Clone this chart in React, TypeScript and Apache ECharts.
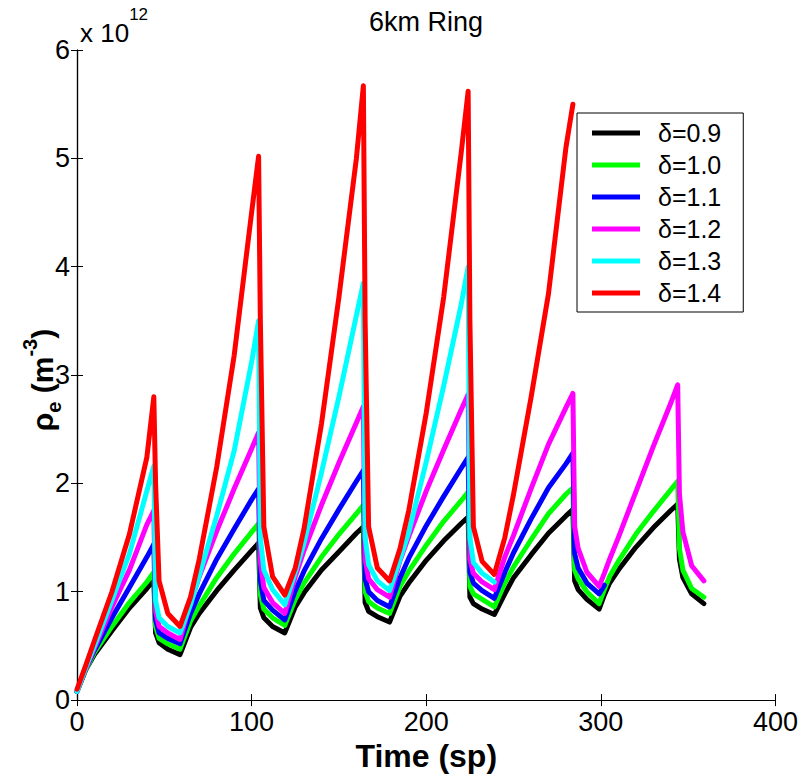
import React, { useEffect, useRef } from "react";
import * as echarts from "echarts";

// x positions (Time, sp)
const xs = [
  0, 5, 10, 20, 30, 40, 44, 45, 47, 52,
  59, 65, 70, 80, 90, 100, 104, 105, 107, 112,
  119, 125, 130, 140, 150, 160, 164, 165, 167, 172,
  179, 185, 190, 200, 210, 220, 224, 225, 227, 232,
  239, 245, 250, 260, 270, 280, 284, 285, 287, 292,
  299, 302, 305, 310, 320, 330, 340, 344, 345, 347, 352,
  359,
];

// values in units of 1e12 m^-3
const d09 = [
  0.08, 0.28, 0.42, 0.64, 0.85, 1.03, 1.11, 0.62, 0.53, 0.47,
  0.42, 0.67, 0.80, 1.01, 1.20, 1.38, 1.45, 0.85, 0.76, 0.68,
  0.62, 0.86, 0.99, 1.20, 1.37, 1.54, 1.60, 0.90, 0.82, 0.77,
  0.72, 0.96, 1.08, 1.29, 1.47, 1.63, 1.69, 0.95, 0.89, 0.84,
  0.79, 0.98, 1.13, 1.34, 1.54, 1.70, 1.76, 1.10, 1.02, 0.93,
  0.84, 0.97, 1.08, 1.20, 1.41, 1.59, 1.75, 1.81, 1.30, 1.13, 0.98,
  0.89,
];
const d10 = [
  0.08, 0.28, 0.44, 0.68, 0.90, 1.09, 1.18, 0.68, 0.57, 0.52,
  0.47, 0.73, 0.87, 1.13, 1.35, 1.55, 1.63, 0.97, 0.84, 0.76,
  0.69, 0.93, 1.08, 1.32, 1.53, 1.72, 1.80, 1.00, 0.91, 0.85,
  0.80, 1.05, 1.19, 1.43, 1.65, 1.84, 1.92, 1.05, 0.98, 0.93,
  0.86, 1.08, 1.23, 1.48, 1.72, 1.90, 1.96, 1.20, 1.12, 1.00,
  0.89, 1.02, 1.14, 1.28, 1.53, 1.74, 1.94, 2.02, 1.40, 1.20, 1.03,
  0.95,
];
const d11 = [
  0.08, 0.29, 0.46, 0.76, 1.04, 1.32, 1.44, 0.74, 0.62, 0.57,
  0.52, 0.80, 0.98, 1.30, 1.58, 1.85, 1.95, 1.10, 0.92, 0.83,
  0.74, 1.01, 1.19, 1.49, 1.76, 2.02, 2.12, 1.12, 1.00, 0.92,
  0.86, 1.13, 1.31, 1.61, 1.88, 2.14, 2.24, 1.18, 1.08, 1.01,
  0.94, 1.18, 1.36, 1.67, 1.96, 2.18, 2.28, 1.35, 1.22, 1.08,
  0.98, 1.06, null, null, null, null, null, null, null, null, null,
  null,
];
const d12 = [
  0.08, 0.29, 0.48, 0.86, 1.20, 1.62, 1.75, 0.82, 0.68, 0.62,
  0.56, 0.90, 1.14, 1.56, 1.95, 2.32, 2.47, 1.28, 1.04, 0.90,
  0.80, 1.14, 1.38, 1.80, 2.19, 2.56, 2.71, 1.30, 1.12, 1.02,
  0.95, 1.29, 1.51, 1.93, 2.31, 2.68, 2.82, 1.30, 1.17, 1.09,
  1.02, 1.32, 1.52, 1.95, 2.36, 2.70, 2.83, 1.60, 1.40, 1.18,
  1.05, 1.17, 1.30, 1.50, 1.92, 2.34, 2.74, 2.91, 1.90, 1.55, 1.24,
  1.10,
];
const d13 = [
  0.08, 0.30, 0.50, 0.92, 1.35, 1.93, 2.16, 0.92, 0.76, 0.68,
  0.62, 0.88, 1.15, 1.70, 2.30, 3.12, 3.50, 1.50, 1.20, 1.02,
  0.88, 1.18, 1.45, 2.10, 2.80, 3.55, 3.85, 1.50, 1.25, 1.10,
  1.01, 1.30, 1.55, 2.20, 2.90, 3.65, 4.00, 1.50, 1.27, 1.17,
  1.09, null, null, null, null, null, null, null, null, null,
  null, null, null, null, null, null, null, null, null, null, null,
  null,
];
const d14 = [
  0.10, 0.32, 0.55, 1.00, 1.53, 2.24, 2.80, 2.00, 1.10, 0.80,
  0.68, 0.95, 1.30, 2.15, 3.18, 4.50, 5.02, 3.50, 1.60, 1.14,
  0.97, 1.22, 1.58, 2.55, 3.72, 5.00, 5.67, 3.50, 1.60, 1.22,
  1.10, 1.40, 1.75, 2.65, 3.72, 5.05, 5.62, 3.50, 1.60, 1.28,
  1.16, 1.50, 1.90, 2.79, 3.75, 5.10, 5.50, null, null, null,
  null, null, null, null, null, null, null, null, null, null, null,
  null,
];

const seriesNames = ["δ=0.9", "δ=1.0", "δ=1.1", "δ=1.2", "δ=1.3", "δ=1.4"];
const seriesColors = ["#000000", "#00ff00", "#0000ff", "#ff00ff", "#00ffff", "#ff0000"];
const seriesValues = [d09, d10, d11, d12, d13, d14];

const xTicks = [0, 100, 200, 300, 400];
const yTicks = [0, 1, 2, 3, 4, 5, 6];

const FONT = "Liberation Sans";

export default function App() {
  const ref = useRef<HTMLDivElement>(null);

  useEffect(() => {
    if (!ref.current) return;
    const chart = echarts.init(ref.current, null, { renderer: "svg" });

    const series = seriesValues.map((vals, si) => ({
      name: seriesNames[si],
      type: "line",
      showSymbol: false,
      symbol: "none",
      color: seriesColors[si],
      itemStyle: { color: seriesColors[si] },
      lineStyle: { width: 5, color: seriesColors[si], join: "round", cap: "round" },
      data: xs
        .map((x, i) => [x, vals[i]])
        .filter((p) => p[1] !== null && p[1] !== undefined),
      z: 2 + si,
    }));

    const axisCommon = {
      axisLine: { show: true, lineStyle: { color: "#000", width: 1.2 } },
      axisTick: { show: true, inside: true, length: 6, lineStyle: { color: "#000" } },
      splitLine: { show: false },
    };

    chart.setOption({
      animation: false,
      backgroundColor: "#fff",
      title: {
        text: "6km Ring",
        left: 421,
        top: 3,
        textAlign: "center",
        textStyle: { fontFamily: FONT, fontSize: 27, fontWeight: "normal", color: "#000" },
      },
      grid: { left: 77, right: 24, top: 50, bottom: 73, containLabel: false },
      legend: {
        orient: "vertical",
        left: 577,
        top: 113,
        icon: "rect",
        itemWidth: 48,
        itemHeight: 5,
        itemGap: 6,
        backgroundColor: "#fff",
        borderColor: "#000",
        borderWidth: 1,
        borderRadius: 0,
        padding: [7, 22, 6, 15],
        textStyle: {
          fontFamily: FONT,
          fontSize: 25,
          color: "#000",
          lineHeight: 26,
          padding: [0, 0, 0, 13],
        },
        data: seriesNames,
      },
      xAxis: [
        {
          type: "value",
          min: xTicks[0],
          max: xTicks[xTicks.length - 1],
          interval: 100,
          position: "bottom",
          ...axisCommon,
          axisLabel: {
            show: true,
            margin: 8,
            fontFamily: FONT,
            fontSize: 27,
            color: "#000",
            showMinLabel: true,
            showMaxLabel: true,
          },
          name: "Time (sp)",
          nameLocation: "middle",
          nameGap: 27,
          nameTextStyle: { fontFamily: FONT, fontSize: 32, fontWeight: "bold", color: "#000" },
        },
        {
          type: "value",
          min: xTicks[0],
          max: xTicks[xTicks.length - 1],
          interval: 100,
          position: "top",
          ...axisCommon,
          axisLabel: { show: false },
        },
      ],
      yAxis: [
        {
          type: "value",
          min: yTicks[0],
          max: yTicks[yTicks.length - 1],
          interval: 1,
          position: "left",
          ...axisCommon,
          axisLabel: {
            show: true,
            margin: 7,
            fontFamily: FONT,
            fontSize: 27,
            color: "#000",
          },
        },
        {
          type: "value",
          min: yTicks[0],
          max: yTicks[yTicks.length - 1],
          interval: 1,
          position: "right",
          ...axisCommon,
          axisLabel: { show: false },
        },
      ],
      graphic: [
        {
          type: "text",
          left: 80,
          top: 6,
          style: {
            text: "{a|x 10}{s|12}",
            rich: {
              a: { fontFamily: FONT, fontSize: 26, color: "#000", lineHeight: 40, verticalAlign: "bottom" },
              s: { fontFamily: FONT, fontSize: 17, color: "#000", lineHeight: 20, verticalAlign: "top" },
            },
          },
        },
        {
          type: "text",
          x: 42,
          y: 380,
          rotation: Math.PI / 2,
          style: {
            text: "{a|ρ}{b|e}{a| (m}{c|-3}{a|)}",
            align: "center",
            verticalAlign: "middle",
            rich: {
              a: { fontFamily: FONT, fontSize: 30, fontWeight: "bold", color: "#000", lineHeight: 44, verticalAlign: "middle" },
              b: { fontFamily: FONT, fontSize: 20, fontWeight: "bold", color: "#000", lineHeight: 20, verticalAlign: "bottom" },
              c: { fontFamily: FONT, fontSize: 20, fontWeight: "bold", color: "#000", lineHeight: 20, verticalAlign: "top" },
            },
          },
        },
      ],
      series,
    });

    return () => {
      chart.dispose();
    };
  }, []);

  return (
    <div
      ref={ref}
      style={{ position: "fixed", left: 0, top: 0, width: 801, height: 777, background: "#fff" }}
    />
  );
}
